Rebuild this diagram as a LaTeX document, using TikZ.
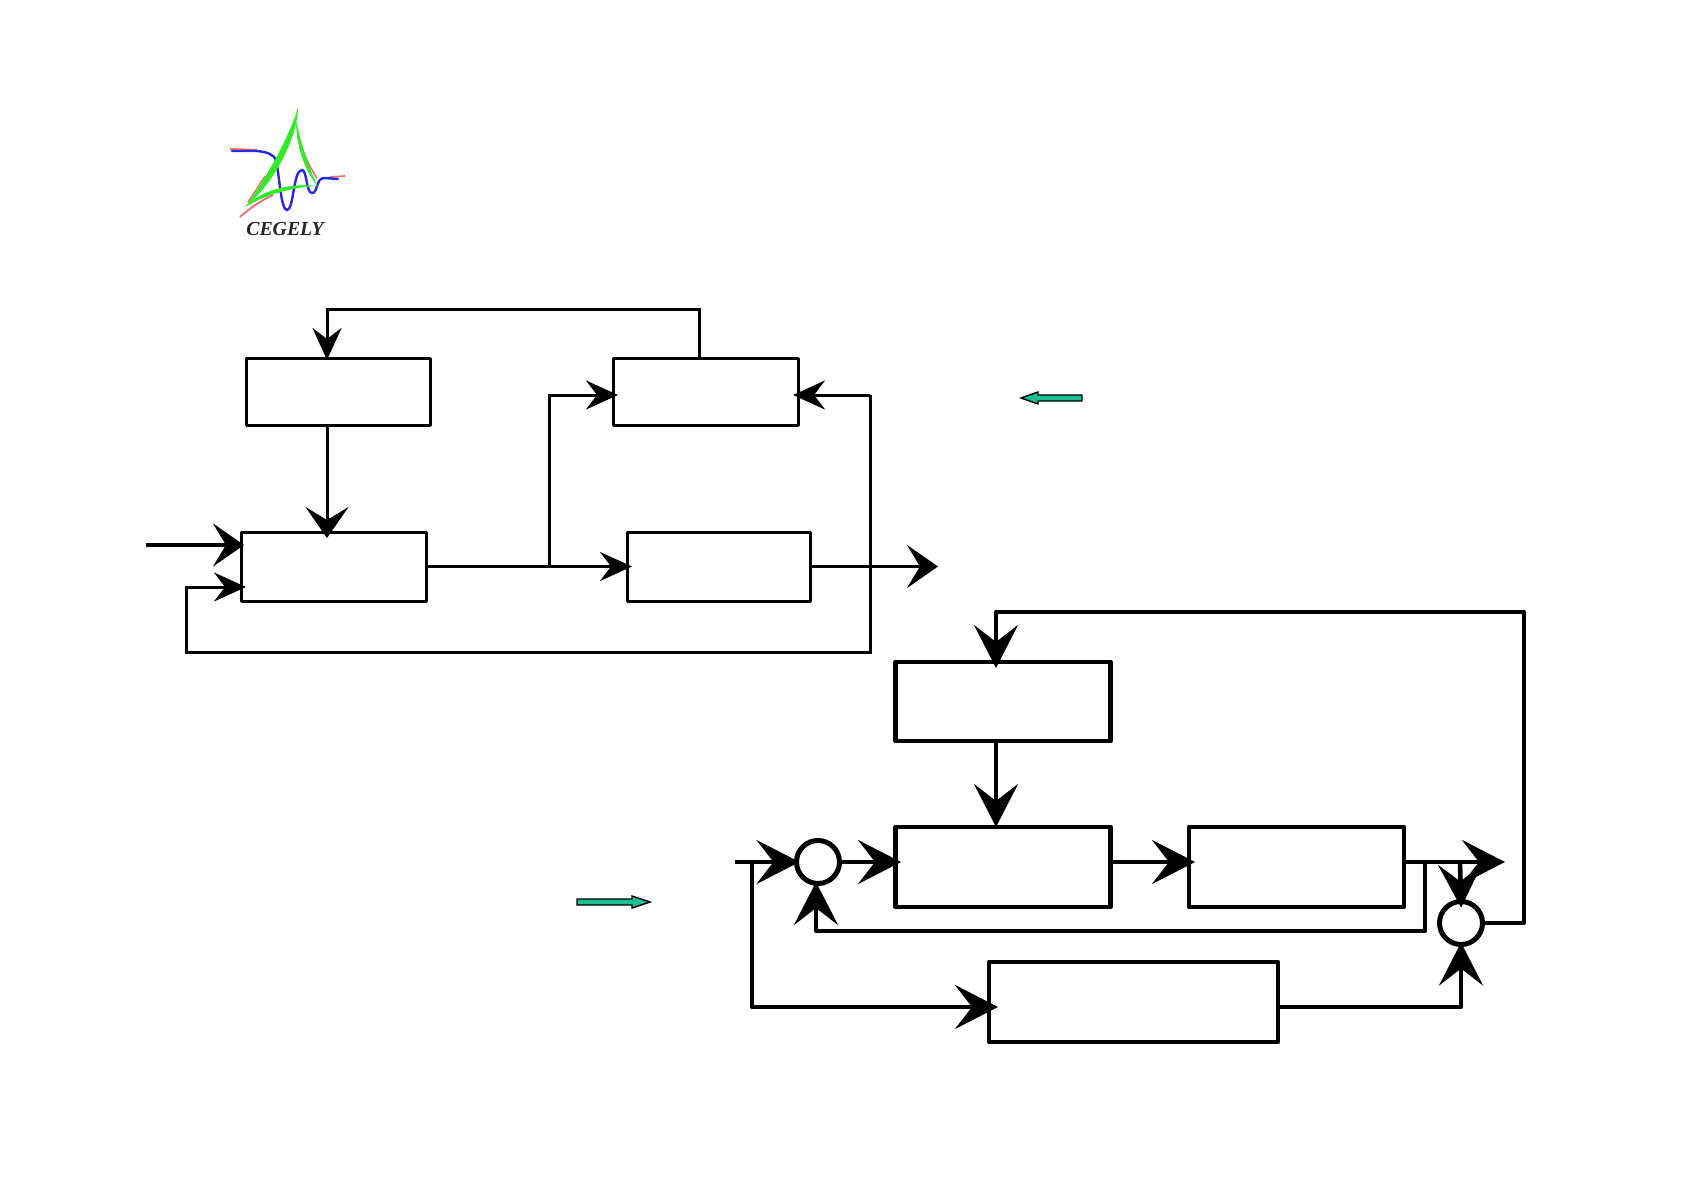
\documentclass[tikz,border=0pt]{standalone}
\usepackage{fontspec}
\setmainfont{Liberation Serif}
\usetikzlibrary{arrows.meta}
\definecolor{teal1}{RGB}{30,190,145}
\definecolor{lg}{RGB}{50,235,40}
\definecolor{lr}{RGB}{235,110,110}
\definecolor{lb}{RGB}{40,40,225}
\tikzset{
  x=0.5pt,y=-0.5pt,
  thinbox/.style={draw=black,line width=1.5pt,fill=white,inner sep=0pt,outer sep=0pt,line join=round},
  thickbox/.style={draw=black,line width=2.4pt,fill=white,inner sep=0pt,outer sep=0pt,line join=round},
  sumnode/.style={circle,draw=black,line width=2.5pt,fill=white,inner sep=0pt,outer sep=0pt,minimum size=21.5pt},
  wire/.style={draw=black,line width=1.5pt,line join=miter},
  wireb/.style={draw=black,line width=2.3pt,line join=round},
  smalltip/.style={-{Stealth[length=16pt,width=14.5pt,inset=5.5pt]},shorten >=-2.5pt},
  widetip/.style={-{Stealth[length=15.5pt,width=21.5pt,inset=6.5pt]},shorten >=-3pt},
  bigtip/.style={-{Stealth[length=21.5pt,width=22pt,inset=8.5pt]},shorten >=-3pt},
  hollowarrow/.style={draw=black,line width=0.7pt,fill=teal1,line join=miter},
}
\begin{document}
\begin{tikzpicture}
\useasboundingbox (0,0) rectangle (1684,1192);
\fill[white] (0,0) rectangle (1684,1192);

% logo
\fill[lr] (230,148) -- (257,149) -- (257,151) -- (230,150) -- cycle;
\draw[lr,line width=.7pt] (248,202) -- (265,176);
\draw[lr,line width=.9pt] (240,217) .. controls (250,208) and (262,200) .. (273,195);
\draw[lr,line width=.8pt] (298,133) .. controls (302,150) and (308,165) .. (317,178);
\draw[lr,line width=.8pt] (330,177) -- (345,176);
\draw[lb,line width=1.2pt,line cap=round] (232,151) -- (257,151) .. controls (268,152) and (274,155) .. (276,160)
  .. controls (280,180) and (281,210) .. (287,210) .. controls (294,210) and (293,170) .. (302,170)
  .. controls (307,170) and (306,193) .. (312,193) .. controls (318,193) and (316,178) .. (324,178) -- (338,179);
\fill[lg] (298,107) .. controls (293,128) and (268,177) .. (245,207)
  .. controls (274,184) and (298,137) .. (298,107) -- cycle;
\fill[lg] (245,207) .. controls (262,189) and (292,183) .. (318,186)
  .. controls (292,187) and (265,195) .. (245,207) -- cycle;
\fill[lg] (296,120) .. controls (296,145) and (304,170) .. (318,187)
  .. controls (309,168) and (301,145) .. (296,120) -- cycle;
\node[inner sep=0pt,text=black!85] (logotext) at (285,229.5) {\fontsize{9.9}{11}\selectfont\bfseries\itshape CEGELY};

% upper diagram
\node[thinbox,minimum width=92pt,minimum height=33.5pt] (a) at (338,391.5) {};
\node[thinbox,minimum width=92.5pt,minimum height=33.5pt] (b) at (705.5,391.5) {};
\node[thinbox,minimum width=92.5pt,minimum height=34.5pt] (c) at (333.5,566.5) {};
\node[thinbox,minimum width=91.5pt,minimum height=34.5pt] (d) at (718.5,566.5) {};

\coordinate (aIn) at (327,358);
\coordinate (cIn) at (327,532);
\coordinate (bOut) at (699,358);
\coordinate (topL) at (327,310);
\coordinate (topR) at (699,310);
\coordinate (split1) at (549,566.5);
\coordinate (split1up) at (549,395);
\coordinate (bIn) at (613,395);
\coordinate (bInR) at (798,395);
\coordinate (fbTop) at (870,395);
\coordinate (fbBot) at (870,652);
\coordinate (fbLeft) at (186,652);
\coordinate (fbUp) at (186,587);
\coordinate (cInLow) at (241,587);
\coordinate (inFree) at (146,545);
\coordinate (cInHigh) at (241,545);
\coordinate (outFree) at (938,566.5);

\draw[wire,smalltip,shorten >=-1pt] (bOut) -- (topR) -- (topL) -- (aIn);
\draw[wire,widetip] (a.south -| aIn) -- (cIn);
\draw[wire,line width=2pt,widetip,shorten >=-1.5pt] (inFree) -- (cInHigh);
\draw[wire,smalltip] (fbTop) -- (fbBot) -- (fbLeft) -- (fbUp) -- (cInLow);
\draw[wire,smalltip] (fbTop) -- (bInR);
\draw[wire,smalltip] (c.east) -- (d.west);
\draw[wire,smalltip] (split1) -- (split1up) -- (bIn);
\draw[wire,widetip,shorten >=0pt] (d.east) -- (outFree);

% teal arrows
\path[hollowarrow] (1082,395) -- (1038,395) -- (1038,392) -- (1021,398) -- (1038,404) -- (1038,401) -- (1082,401) -- cycle;
\path[hollowarrow] (577,899) -- (632,899) -- (632,896) -- (650,902) -- (632,908) -- (632,905) -- (577,905) -- cycle;

% lower diagram
\node[thickbox,minimum width=107.5pt,minimum height=39.5pt] (e) at (1003,701.5) {};
\node[thickbox,minimum width=107.5pt,minimum height=40pt] (f) at (1003,867) {};
\node[thickbox,minimum width=107.5pt,minimum height=40pt] (g) at (1296.5,867) {};
\node[thickbox,minimum width=144.5pt,minimum height=40pt] (h) at (1133.5,1002) {};
\node[sumnode] (s1) at (818,862) {};
\node[sumnode] (s2) at (1461,923) {};

\coordinate (eIn) at (996,662);
\coordinate (fIn) at (996,827);
\coordinate (loopTop) at (996,612);
\coordinate (loopR) at (1524,612);
\coordinate (loopRb) at (1524,923);
\coordinate (lInFree) at (735,862);
\coordinate (split2) at (752,862);
\coordinate (split2b) at (752,1007);
\coordinate (hIn) at (992,1007);
\coordinate (hOutR) at (1461,1007);
\coordinate (fRow) at (895,862);
\coordinate (fRowR) at (1110,862);
\coordinate (gRow) at (1189,862);
\coordinate (gRowR) at (1404,862);
\coordinate (outB) at (1505,862);
\coordinate (split3) at (1425,862);
\coordinate (split3b) at (1425,931);
\coordinate (s1b) at (816,931);
\coordinate (s1bIn) at (816,884);
\coordinate (split4) at (1460,862);

\draw[wireb,line width=2pt,bigtip] (s2.east) -- (loopRb) -- (loopR) -- (loopTop) -- (eIn);
\draw[wireb,bigtip,shorten >=0pt] (e.south -| eIn) -- (fIn);
\draw[wireb,bigtip,shorten >=-1.5pt] (lInFree) -- (s1.west);
\draw[wireb,bigtip] (s1.east) -- (fRow);
\draw[wireb,bigtip] (fRowR) -- (gRow);
\draw[wireb,bigtip,shorten >=0pt] (gRowR) -- (outB);
\draw[wireb,line width=2pt,bigtip,shorten >=-1pt] (split3) -- (split3b) -- (s1b) -- (s1bIn);
\draw[wireb,bigtip] (split2) -- (split2b) -- (hIn);
\draw[wireb,bigtip,shorten >=-1pt] (h.east |- hOutR) -- (hOutR) -- (s2.south);
\draw[wireb,bigtip] (split4) -- (s2.north);
\end{tikzpicture}
\end{document}
